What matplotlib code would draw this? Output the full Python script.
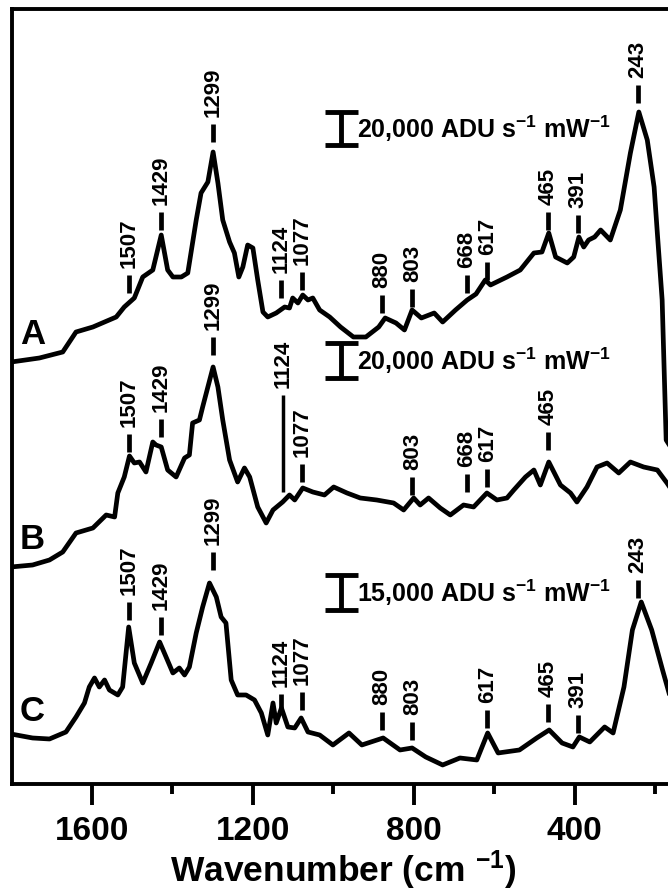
import matplotlib
matplotlib.use("Agg")
import matplotlib.pyplot as plt

# spectra (wavenumber, offset intensity in arbitrary units)
a_wn = [1801, 1731, 1673, 1640, 1598, 1540, 1520, 1495, 1474, 1449, 1428, 1412, 1399, 1378, 1362,
        1341, 1329, 1312, 1299, 1287, 1275, 1258, 1246, 1235, 1225, 1213, 1200, 1188, 1175, 1163,
        1142, 1121, 1109, 1101, 1088, 1076, 1063, 1051, 1034, 1009, 982, 950, 919, 887, 871, 844,
        823, 804, 781, 749, 728, 696, 667, 645, 622, 609, 568, 535, 501, 481, 464, 447, 418, 402,
        389, 377, 365, 350, 335, 311, 286, 261, 240, 219, 202, 194, 182, 176, 172, 150]
a_int = [422, 426, 432, 452, 457, 467, 477, 486, 507, 514, 549, 514, 507, 507, 511,
         564, 591, 602, 632, 601, 564, 542, 531, 507, 517, 539, 536, 504, 472, 467,
         471, 477, 476, 486, 481, 489, 484, 486, 474, 467, 457, 447, 447, 457, 466, 461,
         454, 474, 466, 471, 462, 474, 484, 490, 504, 499, 507, 514, 531, 532, 551, 527, 521, 527,
         547, 537, 544, 547, 554, 544, 574, 631, 672, 644, 597, 551, 484, 400, 344, 330]

b_wn = [1802, 1748, 1706, 1673, 1640, 1598, 1565, 1544, 1536, 1520, 1507, 1495, 1482, 1466, 1449,
        1441, 1428, 1412, 1391, 1370, 1358, 1350, 1333, 1325, 1299, 1287, 1275, 1258, 1238, 1221,
        1208, 1188, 1167, 1150, 1126, 1109, 1096, 1076, 1051, 1022, 999, 966, 933, 892, 850, 825,
        800, 784, 763, 734, 709, 676, 651, 618, 593, 568, 551, 522, 501, 485, 464, 435, 410, 394,
        369, 344, 319, 290, 261, 228, 194, 170, 150]
b_int = [217, 219, 224, 232, 251, 256, 269, 267, 291, 307, 328, 321, 322, 312, 342,
         339, 337, 314, 307, 326, 329, 361, 364, 377, 417, 397, 364, 324, 302, 316,
         307, 277, 261, 274, 282, 289, 284, 296, 292, 289, 297, 291, 286, 284, 281, 274,
         286, 279, 286, 276, 269, 279, 277, 291, 284, 286, 294, 307, 314, 299, 322, 299, 291, 282,
         297, 317, 321, 311, 322, 317, 314, 301, 289]

c_wn = [1802, 1748, 1706, 1665, 1640, 1619, 1607, 1594, 1582, 1569, 1557, 1536, 1524, 1509, 1495,
        1474, 1453, 1432, 1416, 1399, 1383, 1370, 1358, 1341, 1325, 1308, 1291, 1279, 1267, 1254,
        1238, 1217, 1196, 1179, 1163, 1150, 1142, 1129, 1113, 1096, 1080, 1063, 1034, 1001, 961,
        929, 876, 834, 804, 770, 728, 685, 643, 616, 590, 537, 494, 463, 431, 404, 388, 362, 325,
        304, 277, 256, 234, 208, 181, 160]
c_int = [50, 46, 45, 52, 67, 81, 97, 106, 97, 104, 94, 89, 97, 157, 121,
         101, 121, 142, 127, 111, 116, 109, 117, 151, 177, 201, 187, 167, 161, 104,
         89, 89, 84, 71, 49, 81, 61, 76, 57, 56, 66, 52, 49, 39, 51,
         39, 46, 34, 36, 27, 19, 26, 24, 51, 31, 34, 46, 54, 41, 37, 47, 42, 57,
         51, 97, 154, 182, 154, 114, 84]

# band labels: (wavenumber, bottom of marker)
a_bands = [(1507, 491), (1429, 554), (1299, 642), (1124, 486), (1077, 494), (880, 471),
           (803, 477), (668, 491), (617, 504), (465, 554), (391, 551), (243, 681)]
b_bands = [(1507, 332), (1429, 347), (1299, 429), (1077, 302), (803, 289), (668, 292),
           (617, 297), (465, 334)]
c_bands = [(1507, 164), (1429, 149), (1299, 214), (1124, 72), (1077, 74), (880, 54),
           (803, 44), (617, 56), (465, 62), (391, 51), (243, 186)]

plt.rcParams['font.family'] = ['Liberation Sans', 'DejaVu Sans']
plt.rcParams['font.weight'] = 'bold'
plt.rcParams['mathtext.fontset'] = 'custom'
plt.rcParams['mathtext.rm'] = 'Liberation Sans:bold'
plt.rcParams['mathtext.bf'] = 'Liberation Sans:bold'
plt.rcParams['mathtext.it'] = 'Liberation Sans:bold'


def main():
    fig = plt.figure(figsize=(6.68, 8.92), dpi=100)
    ax = fig.add_axes([0.0175, 0.1211, 0.993, 0.8688])

    for wn, inten in [(a_wn, a_int), (b_wn, b_int), (c_wn, c_int)]:
        ax.plot(wn, inten, color='black', lw=3.4, solid_joinstyle='round')

    ax.set_xlim(1800, 150)
    ax.set_ylim(0, 775)

    # band markers and labels (1124 sits a touch left so it clears 1077)
    for bands in [a_bands, b_bands, c_bands]:
        for wn, base in bands:
            xpos = wn + 7 if wn == 1124 else wn
            ax.plot([xpos, xpos], [base, base + 18], color='black', lw=3.4, solid_capstyle='butt')
            ax.text(xpos, base + 25, str(wn), rotation=90, ha='center', va='bottom',
                    fontsize=16, fontweight='bold')
    # long marker for 1124 in B
    ax.plot([1124, 1124], [292, 389], color='black', lw=2.5, solid_capstyle='butt')
    ax.text(1124, 396, '1124', rotation=90, ha='center', va='bottom', fontsize=16,
            fontweight='bold')

    # scale bars
    scales = [(639, 672, '20,000'), (406, 441, '20,000'), (174, 209, '15,000')]
    for lo, hi, lab in scales:
        ax.plot([980, 980], [lo, hi], color='black', lw=3.5, solid_capstyle='butt')
        ax.plot([1021, 939], [lo, lo], color='black', lw=3.5, solid_capstyle='butt')
        ax.plot([1021, 939], [hi, hi], color='black', lw=3.5, solid_capstyle='butt')
        ax.text(942, (lo + hi) / 2, lab + r' ADU s$^{-1}$ mW$^{-1}$', ha='left', va='center',
                fontsize=18, fontweight='bold')

    # trace letters
    for lab, h in [('A', 449), ('B', 244), ('C', 72)]:
        ax.text(1748, h, lab, ha='center', va='center', fontsize=25, fontweight='bold')

    ax.set_xticks([1600, 1200, 800, 400])
    ax.set_xticks([1400, 1000, 600, 200], minor=True)
    ax.set_yticks([])
    ax.tick_params(axis='x', which='major', direction='out', length=15, width=2.8,
                   labelsize=24, pad=8)
    ax.tick_params(axis='x', which='minor', direction='out', length=7.5, width=2.8)
    for lbl in ax.get_xticklabels():
        lbl.set_fontweight('bold')
    for sp in ax.spines.values():
        sp.set_linewidth(2.8)

    ax.set_xlabel(r'Wavenumber (cm $^{-1}$)', fontsize=25.5, fontweight='bold', labelpad=1)

    fig.savefig('out.png', dpi=100)


if __name__ == "__main__":
    main()
